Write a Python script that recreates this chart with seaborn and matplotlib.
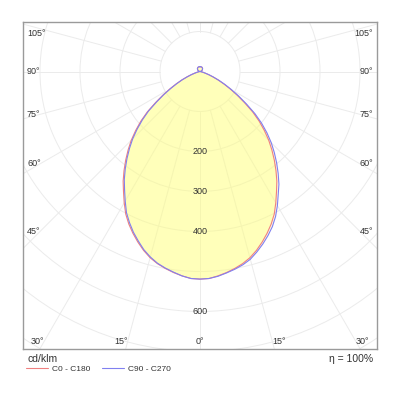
import numpy as np
import matplotlib
matplotlib.use("Agg")
import matplotlib.pyplot as plt
from matplotlib.patches import Circle
import seaborn as sns

# Luminous intensity (cd/klm), gamma angle in degrees from nadir
gamma = [0, 2.5, 5, 7.5, 10, 12.5, 15, 17.5, 20, 22.5, 25, 27.5, 30, 32.5, 35, 37.5,
         40, 42.5, 45, 47.5, 50, 52.5, 55, 57.5, 60, 62.5, 65, 67.5, 70, 72.5, 75, 77.5,
         80, 82.5, 85, 87.5, 90, 100, 110, 120, 130, 140, 150, 160, 170, 180]
c0 = [519, 518, 513, 507, 500, 492, 482, 469, 454, 438, 421, 402, 379, 356, 335, 312,
      289, 266, 243, 218, 193, 166, 136, 110, 87, 67, 50, 35, 23, 14, 8, 4,
      2, 1, 0.5, 0.2, 0, 2, 4, 6, 8, 10, 11, 12, 12, 12]
c180 = [519, 518, 513, 507, 500, 492, 482, 469, 454, 438, 421, 402, 379, 356, 335, 312,
        289, 266, 243, 218, 193, 166, 136, 110, 87, 67, 50, 35, 23, 14, 8, 4,
        2, 1, 0.5, 0.2, 0, 2, 4, 6, 8, 10, 11, 12, 12, 12]
c90 = [519, 518, 514, 508, 502, 495, 486, 473, 459, 444, 428, 409, 387, 364, 344, 321,
       298, 275, 252, 227, 201, 173, 142, 115, 91, 70, 52, 36, 24, 14, 8, 4,
       2, 1, 0.5, 0.2, 0, 2, 4, 6, 8, 10, 11, 12, 12, 12]
c270 = [519, 518, 513, 506, 499, 491, 480, 467, 451, 435, 417, 398, 374, 351, 330, 307,
        284, 261, 238, 213, 188, 162, 132, 107, 84, 65, 49, 34, 23, 14, 8, 4,
        2, 1, 0.5, 0.2, 0, 2, 4, 6, 8, 10, 11, 12, 12, 12]

ring_values = [100, 200, 300, 400, 500, 600, 700, 800]
ring_labels = [200, 300, 400, 600]
side_angles = [45, 60, 75, 90, 105]
bottom_angles = [15, 30]
eta_text = "η = 100%"
unit_text = "cd/klm"

sns.set_style("white")
plt.rcParams['font.family'] = ['Liberation Sans', 'DejaVu Sans']

PX = 0.4  # pixels per cd/klm
CY = 71.5  # pole position in pixels from top
fig = plt.figure(figsize=(4, 4), dpi=100)
ax = fig.add_axes([23 / 400, 51 / 400, 354 / 400, 327 / 400])
ax.set_xlim(-177 / PX, 177 / PX)
ax.set_ylim(-(349 - CY) / PX, (CY - 22) / PX)
ax.set_xticks([])
ax.set_yticks([])
for s in ax.spines.values():
    s.set_color('#9a9a9a')
    s.set_linewidth(1.0)

grid_col = '#ebebeb'
for r in ring_values:
    ax.add_patch(Circle((0, 0), r, fill=False, ec=grid_col, lw=0.7, zorder=1))
for a in range(0, 360, 15):
    t = np.radians(a)
    ax.plot([100 * np.sin(t), 1200 * np.sin(t)], [-100 * np.cos(t), -1200 * np.cos(t)],
            color=grid_col, lw=0.7, zorder=1)


def curve(left, right):
    g = np.radians(gamma)
    xl = -np.array(left) * np.sin(g)
    yl = -np.array(left) * np.cos(g)
    xr = np.array(right) * np.sin(g)
    yr = -np.array(right) * np.cos(g)
    x = np.concatenate([xl[::-1], xr])
    y = np.concatenate([yl[::-1], yr])
    return x, y


xr_, yr_ = curve(c180, c0)
xb_, yb_ = curve(c270, c90)
ax.fill(xr_, yr_, color='#ffff80', alpha=0.42, lw=0, zorder=2)
ax.fill(xb_, yb_, color='#ffff80', alpha=0.2, lw=0, zorder=2)

sns.lineplot(x=xr_, y=yr_, sort=False, estimator=None, color='#f08080', lw=0.8,
             label='C0 - C180', ax=ax, zorder=3)
sns.lineplot(x=xb_, y=yb_, sort=False, estimator=None, color='#8080f0', lw=0.8,
             label='C90 - C270', ax=ax, zorder=3)

tc = '#333333'
fs = 6.5
for v in ring_labels:
    ax.text(0, -v, str(v), ha='center', va='center', fontsize=fs, color=tc, zorder=4)

for a in side_angles:
    yd = -(160 / PX) / np.tan(np.radians(a)) if a != 90 else 0
    yd = min(yd, (CY - 33) / PX)
    ax.text(-173 / PX, yd, f"{a}°", ha='left', va='center', fontsize=fs, color=tc)
    ax.text(173 / PX, yd, f"{a}°", ha='right', va='center', fontsize=fs, color=tc)

yb = -(341 - CY) / PX
for a in bottom_angles:
    xd = (341 - CY) / PX * np.tan(np.radians(a))
    ax.text(-xd, yb, f"{a}°", ha='right', va='center', fontsize=fs, color=tc)
    ax.text(xd, yb, f"{a}°", ha='left', va='center', fontsize=fs, color=tc)
ax.text(0, yb, "0°", ha='center', va='center', fontsize=fs, color=tc)

fig.text(27 / 400, 1 - 359 / 400, unit_text, ha='left', va='center', fontsize=7.5, color=tc)
fig.text(373 / 400, 1 - 359 / 400, eta_text, ha='right', va='center', fontsize=7.5, color=tc)

ax.legend(loc='upper left', bbox_to_anchor=(26 / 400, 1 - 365 / 400),
          bbox_transform=fig.transFigure, ncol=2, frameon=False, fontsize=6,
          handlelength=2.6, handletextpad=0.5, columnspacing=1.4,
          borderaxespad=0, borderpad=0, labelcolor=tc)

fig.savefig('out.png', dpi=100)
